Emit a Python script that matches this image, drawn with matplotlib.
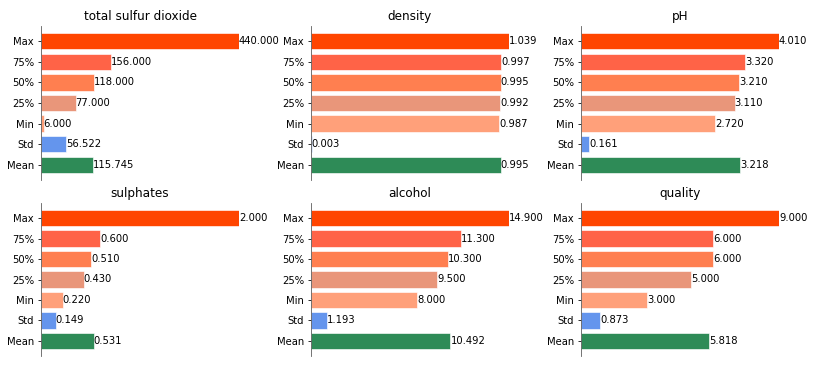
import matplotlib
matplotlib.use('Agg')
import matplotlib.pyplot as plt

# Summary statistics per feature
stats = ['Max', '75%', '50%', '25%', 'Min', 'Std', 'Mean']
features = ['total sulfur dioxide', 'density', 'pH', 'sulphates', 'alcohol', 'quality']

total_sulfur_dioxide = [440.000, 156.000, 118.000, 77.000, 6.000, 56.522, 115.745]
density = [1.039, 0.997, 0.995, 0.992, 0.987, 0.003, 0.995]
ph = [4.010, 3.320, 3.210, 3.110, 2.720, 0.161, 3.218]
sulphates = [2.000, 0.600, 0.510, 0.430, 0.220, 0.149, 0.531]
alcohol = [14.900, 11.300, 10.300, 9.500, 8.000, 1.193, 10.492]
quality = [9.000, 6.000, 6.000, 5.000, 3.000, 0.873, 5.818]

values = [total_sulfur_dioxide, density, ph, sulphates, alcohol, quality]
colors = ['orangered', 'tomato', 'coral', 'darksalmon', 'lightsalmon',
          'cornflowerblue', 'seagreen']

W, H = 821, 365
fig = plt.figure(figsize=(W / 72, H / 72), dpi=72)

lefts = [41, 311, 581]
rows = [(26, 180), (203, 356)]  # (top, bottom) in pixels
axw = 198

for k, (name, vals) in enumerate(zip(features, values)):
    r, c = divmod(k, 3)
    top, bot = rows[r]
    ax = fig.add_axes([lefts[c] / W, (H - bot) / H, axw / W, (bot - top) / H])
    pos = range(len(stats))
    ax.barh(pos, vals, color=colors, edgecolor='white', linewidth=0.6)
    for p, v in zip(pos, vals):
        ax.text(v, p, f'{v:.3f}', ha='left', va='center', fontsize=10)
    ax.set_yticks(list(pos))
    ax.set_yticklabels(stats)
    ax.invert_yaxis()
    ax.set_xlim(0, max(vals))
    ax.set_xticks([])
    for s in ['top', 'right', 'bottom']:
        ax.spines[s].set_visible(False)
    ax.spines['left'].set_color('#555555')
    ax.set_title(name, fontsize=12)

fig.savefig('out.png', dpi=72)
